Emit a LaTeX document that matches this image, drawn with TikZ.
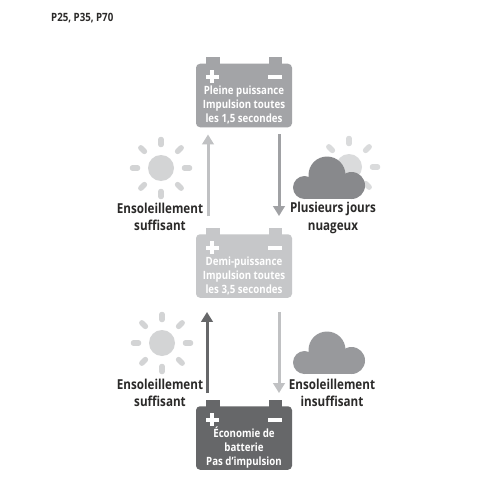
\documentclass[tikz,border=0pt]{standalone}
\usepackage{fontspec}
\setmainfont{Open Sans}[FakeStretch=0.85]
\usetikzlibrary{arrows.meta}
\definecolor{cBattA}{HTML}{A3A4A7}
\definecolor{cBattB}{HTML}{C6C7C9}
\definecolor{cBattC}{HTML}{666769}
\definecolor{cSun}{HTML}{D3D4D5}
\definecolor{cSunB}{HTML}{DADBDC}
\definecolor{cCloudA}{HTML}{88898C}
\definecolor{cCloudB}{HTML}{98999C}
\definecolor{cArrowLight}{HTML}{C0C1C3}
\definecolor{cArrowMid}{HTML}{A0A1A4}
\definecolor{cLabel}{HTML}{2B2A29}
\tikzset{
  x=1pt,y=-1pt,
  battbody/.style={rectangle,rounded corners=4pt,minimum width=96pt,minimum height=63.5pt,inner sep=0pt,fill=#1},
  batttext/.style={align=center,inner sep=0pt,text=white,font=\fontsize{11.4}{14}\selectfont\bfseries},
  statelabel/.style={align=center,inner sep=0pt,text=cLabel,font=\fontsize{13.7}{17.5}\selectfont\bfseries},
  flow/.style={draw=#1,line width=3pt,-{Triangle[length=10pt,width=11.5pt]},shorten >=7pt},
  ray/.style={line width=5.5pt,line cap=round},
}
\newcommand{\battery}[5]{% name, centre y, colour, text, text y
  \fill[#3] (206,#2-38) rectangle (219.5,#2-25);
  \fill[#3] (268.5,#2-38) rectangle (282,#2-25);
  \node[battbody=#3] (#1) at (244,#2) {};
  \fill[white] (205.5,#2-20.5) rectangle (219,#2-16.5);
  \fill[white] (210.3,#2-25) rectangle (214.3,#2-12);
  \fill[white] (268,#2-20.5) rectangle (282,#2-16.5);
  \node[batttext] (#1t) at (244,#5) {#4};
}
\newcommand{\sunicon}[4]{% name, x, y, colour
  \node[circle,fill=#4,minimum size=26pt,inner sep=0pt] (#1) at (#2,#3) {};
  \foreach \a in {0,45,...,315}
    \draw[ray,draw=#4] ([shift={(\a:23.5pt)}]#1.center) -- ([shift={(\a:28.5pt)}]#1.center);
}
\newcommand{\cloudicon}[3]{% x-left, y-bottom, colour
  \fill[#3] (#1+11.5,#2-11.5) circle[radius=11.5];
  \fill[#3] (#1+34,#2-24) circle[radius=18.5];
  \fill[#3] (#1+58.5,#2-13.5) circle[radius=13.5];
  \fill[#3] (#1+11.5,#2-20) rectangle (#1+58.5,#2);
}
\begin{document}
\begin{tikzpicture}
\useasboundingbox (0,0) rectangle (500,500);
\fill[white] (0,0) rectangle (500,500);

\node[anchor=west,inner sep=0pt,text=cLabel,font=\fontsize{11.4}{13}\selectfont\bfseries] (title) at (51,18) {P25, P35, P70};

\battery{bA}{95.5}{cBattA}{Pleine puissance\\Impulsion toutes\\les 1,5 secondes}{105}
\battery{bB}{266}{cBattB}{Demi-puissance\\Impulsion toutes\\les 3,5 secondes}{276}
\battery{bC}{438}{cBattC}{Économie de\\batterie\\Pas d’impulsion}{448}

\draw[flow=cArrowLight,shorten <=18pt] ([xshift=-36pt]bB.north) -- ([xshift=-36pt]bA.south);
\draw[flow=cArrowMid,shorten <=7pt,shorten >=18pt] ([xshift=35pt]bA.south) -- ([xshift=35pt]bB.north);
\draw[flow=cBattC,shorten <=13pt,shorten >=14pt] ([xshift=-37pt]bC.north) -- ([xshift=-37pt]bB.south);
\draw[flow=cArrowLight,shorten <=14pt,shorten >=13pt] ([xshift=35pt]bB.south) -- ([xshift=35pt]bC.north);

\sunicon{sunA}{161}{168}{cSun}
\sunicon{sunB}{162}{343}{cSun}
\sunicon{sunC}{349}{167}{cSunB}
\cloudicon{293}{199}{cCloudA}
\cloudicon{293}{374}{cCloudB}

\node[statelabel] (lA) at (160,217) {Ensoleillement\\suffisant};
\node[statelabel] (lB) at (333,218) {Plusieurs jours\\nuageux};
\node[statelabel] (lC) at (160,393) {Ensoleillement\\suffisant};
\node[statelabel] (lD) at (332,393) {Ensoleillement\\insuffisant};
\end{tikzpicture}
\end{document}
